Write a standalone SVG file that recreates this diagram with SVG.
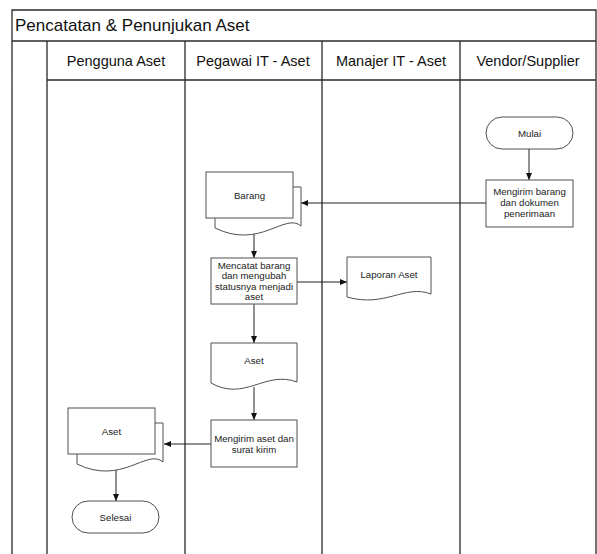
<svg xmlns="http://www.w3.org/2000/svg" width="597" height="554" viewBox="0 0 597 554">
<defs>
<style>
.frame{fill:none;stroke:#2a2a2a;stroke-width:1.3}
.shape{fill:#fff;stroke:#505050;stroke-width:1}
.conn{fill:none;stroke:#222;stroke-width:1}
.title{font-family:"Liberation Sans",Arial,sans-serif;font-size:17px;fill:#111}
.hdr{font-family:"Liberation Sans",Arial,sans-serif;font-size:14.5px;fill:#111;text-anchor:middle}
.lbl{font-family:"Liberation Sans",Arial,sans-serif;font-size:9.7px;fill:#222;text-anchor:middle}
</style>
<marker id="arr" markerUnits="userSpaceOnUse" markerWidth="8" markerHeight="8" refX="7" refY="3" orient="auto">
<path d="M0,0 L7,3 L0,6 Z" fill="#111"/>
</marker>
</defs>
<rect width="597" height="554" fill="#fff"/>
<g id="pool">
<path class="frame" d="M12,554 V10 H596 V554 M12,41 H596 M47,41 V554 M185,41 V554 M322,41 V554 M460,41 V554 M47,80 H596"/>
<text class="title" x="15" y="31">Pencatatan &amp; Penunjukan Aset</text>
<text class="hdr" x="116" y="66">Pengguna Aset</text>
<text class="hdr" x="253" y="66">Pegawai IT - Aset</text>
<text class="hdr" x="391" y="66">Manajer IT - Aset</text>
<text class="hdr" x="528" y="66">Vendor/Supplier</text>
</g>
<g id="connectors">
<path class="conn" marker-end="url(#arr)" d="M529,149 V180"/>
<path class="conn" marker-end="url(#arr)" d="M486,203 H301"/>
<path class="conn" marker-end="url(#arr)" d="M254,234 V258"/>
<path class="conn" marker-end="url(#arr)" d="M297,282 H347"/>
<path class="conn" marker-end="url(#arr)" d="M254,304 V343"/>
<path class="conn" marker-end="url(#arr)" d="M254,387 V420"/>
<path class="conn" marker-end="url(#arr)" d="M211,444 H164"/>
<path class="conn" marker-end="url(#arr)" d="M116,470 V501"/>
</g>
<g id="mulai">
<rect class="shape" x="486" y="117" width="87" height="32" rx="16"/>
<text class="lbl" x="529.5" y="136.5">Mulai</text>
</g>
<g id="mengirim-barang">
<rect class="shape" x="486" y="180" width="87" height="47"/>
<text class="lbl" x="529.5" y="195">Mengirim barang</text>
<text class="lbl" x="529.5" y="206">dan dokumen</text>
<text class="lbl" x="529.5" y="217">penerimaan</text>
</g>
<g id="barang">
<path class="shape" d="M293,187 H301 V226 C285,212 260,250 215,228 V218"/>
<rect class="shape" x="206" y="172" width="87" height="46"/>
<text class="lbl" x="249.5" y="198.5">Barang</text>
</g>
<g id="mencatat">
<rect class="shape" x="211" y="258" width="86" height="46"/>
<text class="lbl" x="254" y="268.8">Mencatat barang</text>
<text class="lbl" x="254" y="279.3">dan mengubah</text>
<text class="lbl" x="254" y="289.8">statusnya menjadi</text>
<text class="lbl" x="254" y="300.3">aset</text>
</g>
<g id="laporan-aset">
<path class="shape" d="M347,257 H431 V294 C405,284 385,308 347,297 Z"/>
<text class="lbl" x="389" y="277.5">Laporan Aset</text>
</g>
<g id="aset-doc">
<path class="shape" d="M211,343 H297 V382 C265,370 245,402 211,383 Z"/>
<text class="lbl" x="254" y="363.5">Aset</text>
</g>
<g id="mengirim-aset">
<rect class="shape" x="211" y="420" width="86" height="47"/>
<text class="lbl" x="254" y="442">Mengirim aset dan</text>
<text class="lbl" x="254" y="452.5">surat kirim</text>
</g>
<g id="aset-multi">
<path class="shape" d="M155,423 H163 V462 C147,448 122,486 77,464 V454"/>
<rect class="shape" x="68" y="408" width="87" height="46"/>
<text class="lbl" x="111.5" y="434.5">Aset</text>
</g>
<g id="selesai">
<rect class="shape" x="72" y="501" width="87" height="32" rx="16"/>
<text class="lbl" x="115.5" y="520.5">Selesai</text>
</g>
</svg>
